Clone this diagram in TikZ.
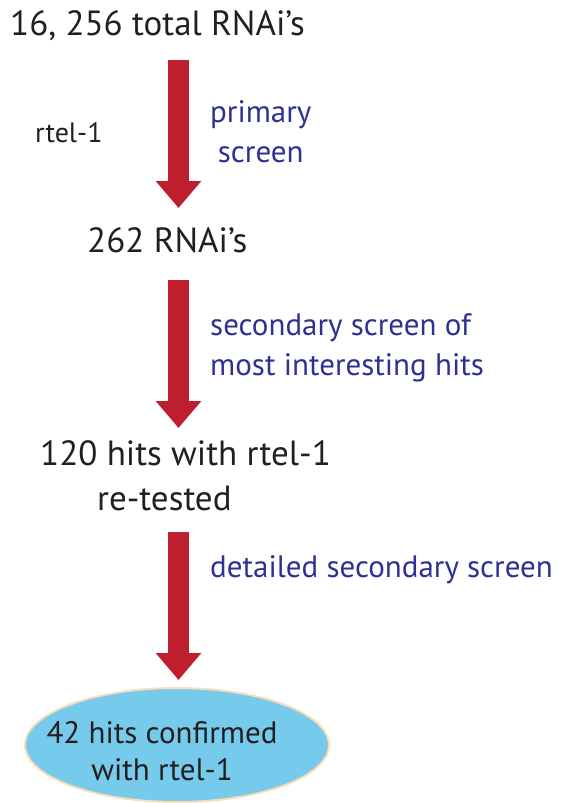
\documentclass[tikz,border=0pt]{standalone}
\usepackage{fontspec}
\setmainfont{PT Sans}
\usetikzlibrary{arrows.meta,shapes.geometric}
\definecolor{stepred}{HTML}{BE1E2D}
\definecolor{screenblue}{HTML}{2E3192}
\definecolor{inkblack}{HTML}{231F20}
\definecolor{hitfill}{HTML}{76CAEB}
\definecolor{hitedge}{HTML}{FCDDB8}
\tikzset{
  count/.style = {inner sep=0pt, anchor=base west, text=inkblack,
    font=\fontsize{35}{45}\selectfont},
  screen/.style = {inner sep=0pt, anchor=base west, text=screenblue, align=left,
    font=\fontsize{31}{40}\selectfont},
  funnel/.style = {draw=stepred, line width=21pt,
    -{Triangle[width=44pt,length=27pt]}},
}
\begin{document}
\begin{tikzpicture}[x=1pt, y=-1pt]
    \useasboundingbox (0,0) rectangle (560,803);
    % counts (multi-line nodes sit on their last baseline)
    \node[count] (total) at (10,35) {16, 256 total RNAi's};
    \node[count, font=\fontsize{28}{30}\selectfont] (rtel) at (35,142) {rtel-1};
    \node[count] (hits262) at (87,252) {262 RNAi's};
    \node[count, align=left] (hits120) at (40,510) {120 hits with rtel-1\\\hspace*{57pt}re-tested};
    % screens
    \node[screen, align=center] (primary) at (210,162) {primary\\screen};
    \node[screen] (secondary) at (210,375) {secondary screen of\\most interesting hits};
    \node[screen] (detailed) at (210,577) {detailed secondary screen};
    % result
    \node[ellipse, draw=hitedge, line width=2pt, fill=hitfill,
      minimum width=304pt, minimum height=114pt] (confirmed) at (177,745) {};
    \node[count, anchor=base, align=center, font=\fontsize{31}{37}\selectfont]
      (conftext) at (162,780) {42 hits confirmed\\with rtel-1};
    % arrows
    \coordinate (a1) at (178.5,60);
    \coordinate (b1) at (178.5,208);
    \coordinate (a2) at (178.5,280);
    \coordinate (b2) at (178.5,428);
    \coordinate (a3) at (178.5,532);
    \coordinate (b3) at (178.5,680);
    \draw[funnel] (a1) -- (b1);
    \draw[funnel] (a2) -- (b2);
    \draw[funnel] (a3) -- (b3);
\end{tikzpicture}
\end{document}
